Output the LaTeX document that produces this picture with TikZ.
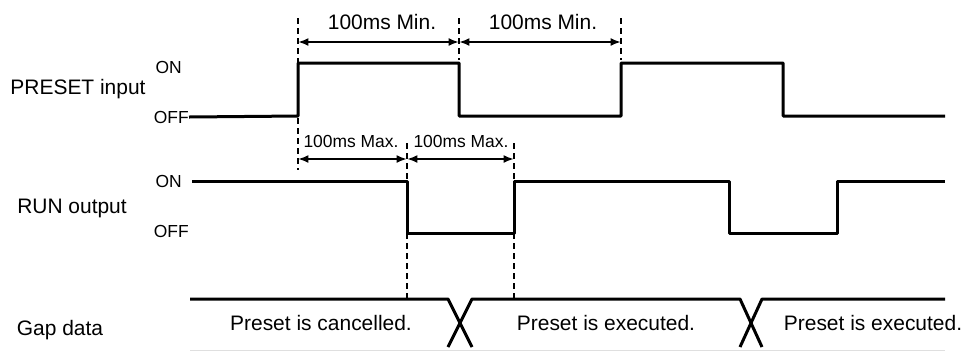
\documentclass[tikz,border=0pt]{standalone}
\usepackage{fontspec}
\setmainfont{Liberation Sans}
\usetikzlibrary{positioning, arrows.meta}

\begin{document}
\begin{tikzpicture}[x=0.025cm, y=-0.025cm,
    wave/.style={line width=0.075cm, line join=round},
    guide/.style={line width=0.035cm, dash pattern=on 0.15cm off 0.1cm},
    dimarr/.style={{Latex[length=2.6mm, width=2mm]}-{Latex[length=2.6mm, width=2mm]}, line width=0.05cm},
    sig/.style={font=\fontsize{14.9}{17}\selectfont, inner sep=0pt},
    lvl/.style={font=\fontsize{12.4}{14}\selectfont, inner sep=0pt},
    tag/.style={font=\fontsize{14.9}{17}\selectfont, inner sep=0pt},
    dimlbl/.style={font=\fontsize{14.9}{17}\selectfont, inner sep=0pt},
    maxlbl/.style={font=\fontsize{12.4}{14}\selectfont, inner sep=0pt}]
    \useasboundingbox (0,0) rectangle (971,351);

    % signal names and levels
    \node[sig] (preset) at (78,89)  {PRESET input};
    \node[sig] (run)    at (72,208) {RUN output};
    \node[sig] (gap)    at (60,330) {Gap data};
    \node[lvl, anchor=east] (pon)  at (182,67)  {ON};
    \node[lvl, anchor=east] (poff) at (189,117) {OFF};
    \node[lvl, anchor=east] (ron)  at (182,181) {ON};
    \node[lvl, anchor=east] (roff) at (189,231) {OFF};

    % edge coordinates
    \coordinate (e1) at (298,116);
    \coordinate (e2) at (459,63);
    \coordinate (e3) at (621,116);
    \coordinate (r1) at (407,181);
    \coordinate (r2) at (514,233);

    % PRESET input
    \draw[wave] (poff.east) -- (298,116) |- (459,63) |- (621,116) |- (783,63) |- (945,116);
    % RUN output
    \draw[wave] (192,181) -- (407,181) |- (514,233) |- (729,181) |- (837,233) |- (945,181);

    % Gap data
    \draw[gray!25, line width=0.02cm] (190,350) -- (945,350);
    \draw[wave] (190,299) -- (448,299) -- (472,347);
    \draw[wave] (448,347) -- (472,299) -- (740,299) -- (762,347);
    \draw[wave] (740,347) -- (762,299) -- (945,299);
    \node[tag] (cancel) at (321,323) {Preset is cancelled.};
    \node[tag] (exec1)  at (606,323) {Preset is executed.};
    \node[tag] (exec2)  at (873,323) {Preset is executed.};

    % guide lines
    \coordinate (g1t) at (298,18);  \coordinate (g1b) at (298,170);
    \coordinate (g2t) at (459,18);  \coordinate (g2b) at (459,60);
    \coordinate (g3t) at (621,18);  \coordinate (g3b) at (621,60);
    \coordinate (g4t) at (407,143); \coordinate (g4b) at (407,299);
    \coordinate (g5t) at (514,143); \coordinate (g5b) at (514,299);
    \foreach \g in {g1, g2, g3, g4, g5}
      \draw[guide] (\g t) -- (\g b);

    % timing dimensions
    \coordinate (a1) at (298,42);  \coordinate (a2) at (459,42);  \coordinate (a3) at (621,42);
    \coordinate (b1) at (298,159); \coordinate (b2) at (407,159); \coordinate (b3) at (514,159);
    \draw[dimarr] (a1) -- (a2);
    \draw[dimarr] (a2) -- (a3);
    \draw[dimarr] (b1) -- (b2);
    \draw[dimarr] (b2) -- (b3);
    \node[dimlbl] (min1) at (382,22)  {100ms Min.};
    \node[dimlbl] (min2) at (543,22)  {100ms Min.};
    \node[maxlbl] (max1) at (351,141) {100ms Max.};
    \node[maxlbl] (max2) at (461,141) {100ms Max.};
  \end{tikzpicture}
\end{document}
